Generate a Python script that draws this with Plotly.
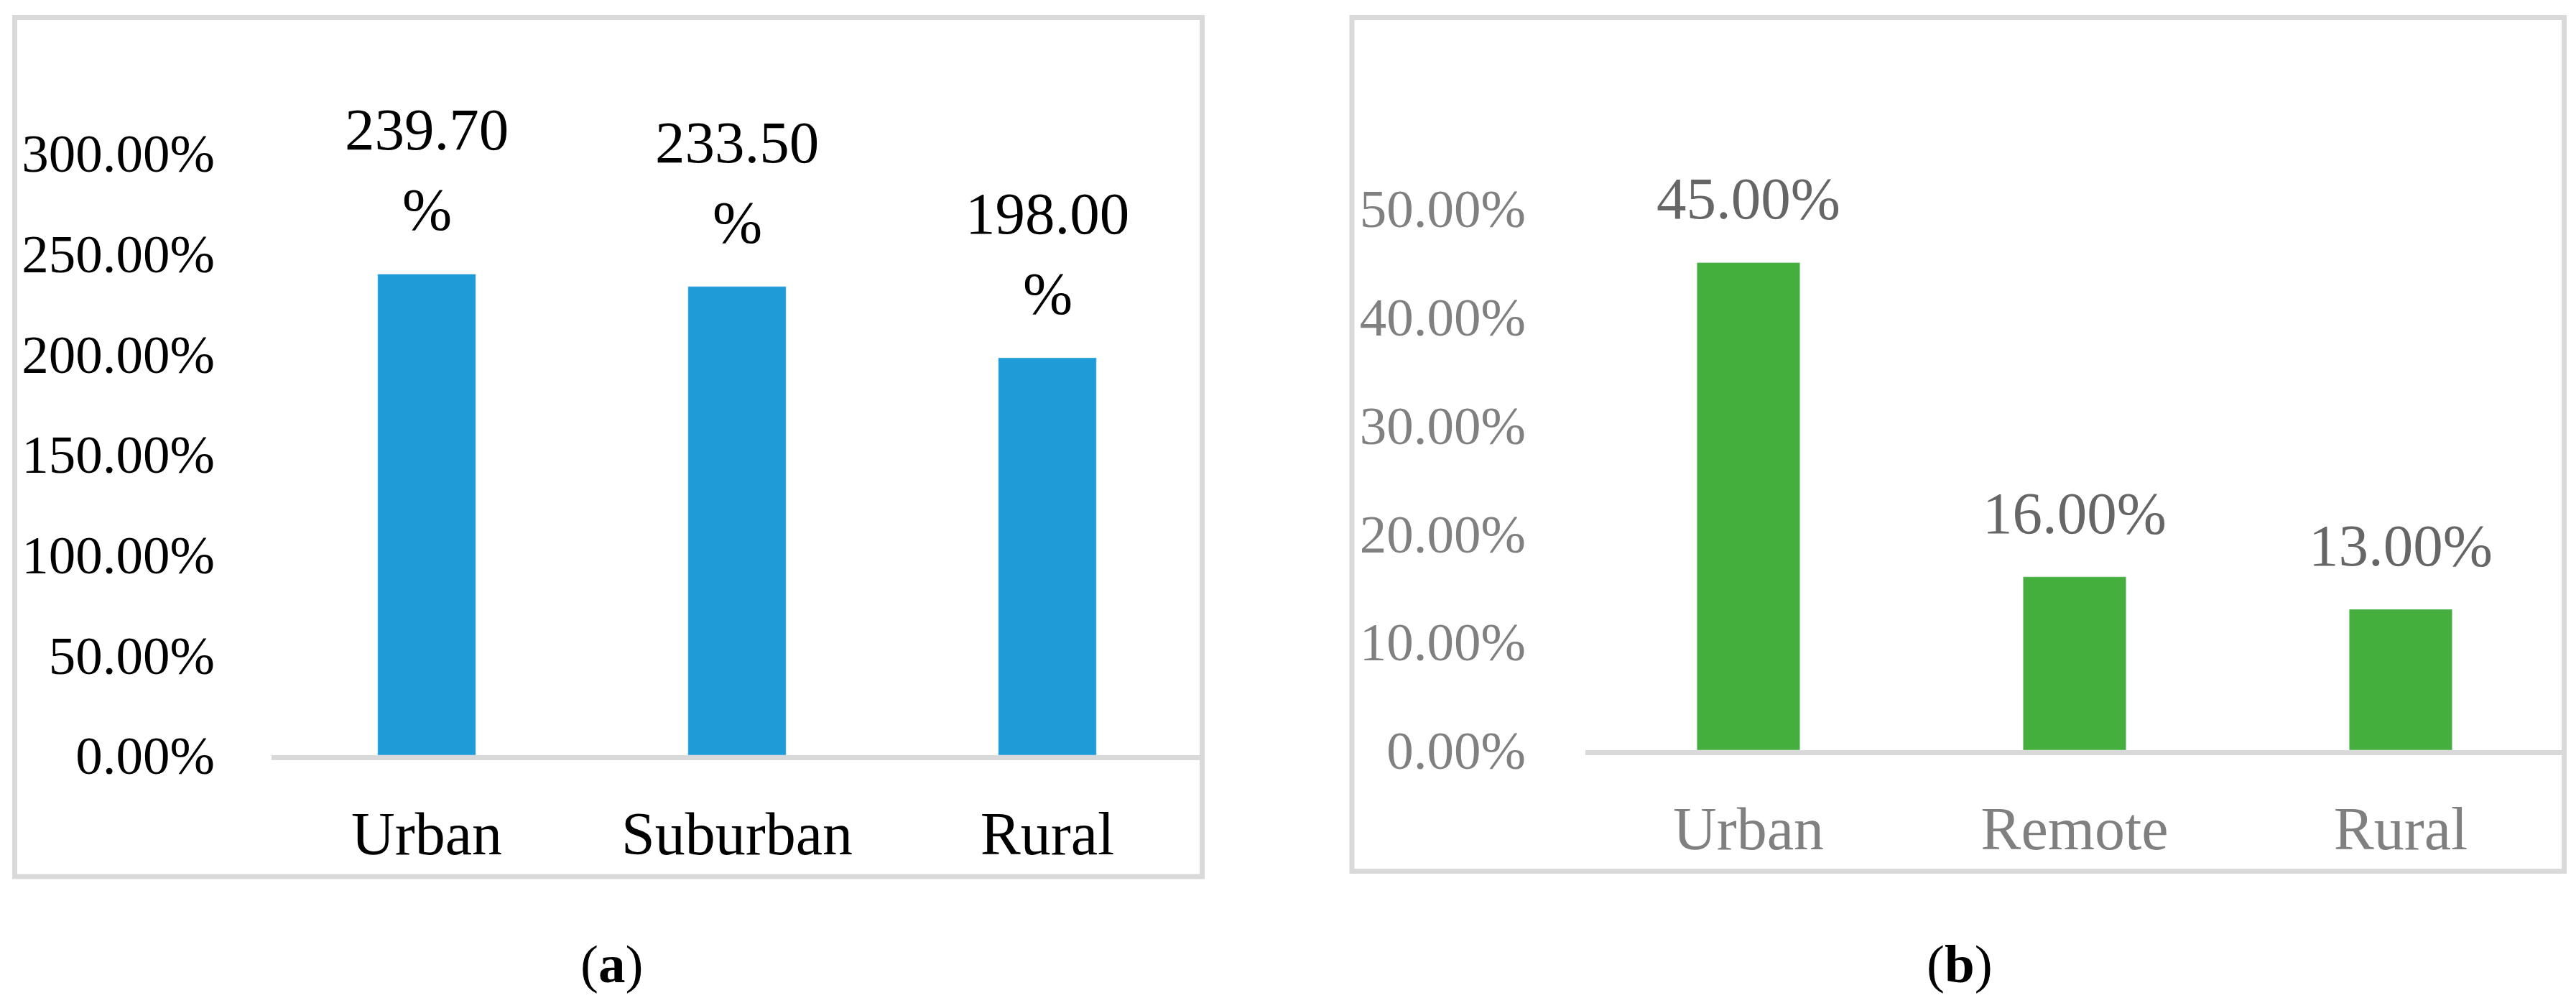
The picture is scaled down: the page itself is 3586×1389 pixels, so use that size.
import plotly.graph_objects as go

# ---- data ----
cats_a = ["Urban", "Suburban", "Rural"]
vals_a = [239.70, 233.50, 198.00]
cats_b = ["Urban", "Remote", "Rural"]
vals_b = [45.00, 16.00, 13.00]
ticks_a = [0, 50, 100, 150, 200, 250, 300]
ticks_b = [0, 10, 20, 30, 40, 50]
captions = ["a", "b"]

W, H = 3586, 1389
OFF = 8  # default body margin of the html page
FONT = "Liberation Serif"
FS_TICK = 75
FS_CAT = 84
FS_LAB = 83
FS_CAP = 75
BLUE = "#1E9CD8"
GREEN = "#45AF3D"
BORDER = "#D9D9D9"

def px(x):
    return (x - OFF) / W

def py(y):
    return 1 - (y - OFF) / H

fig = go.Figure()
fig.add_trace(go.Bar(x=cats_a, y=vals_a, marker_color=BLUE, xaxis="x", yaxis="y",
                     hoverinfo="skip", showlegend=False))
fig.add_trace(go.Bar(x=cats_b, y=vals_b, marker_color=GREEN, xaxis="x2", yaxis="y2",
                     hoverinfo="skip", showlegend=False))

annotations = []
# panel a labels: value on one line, "%" wrapped on the next
for c, v in zip(cats_a, vals_a):
    annotations.append(dict(x=c, y=v, xref="x", yref="y", text="%", showarrow=False,
                            yanchor="bottom", yshift=42,
                            font=dict(family=FONT, size=FS_LAB, color="#000000")))
    annotations.append(dict(x=c, y=v, xref="x", yref="y", text=f"{v:.2f}", showarrow=False,
                            yanchor="bottom", yshift=153,
                            font=dict(family=FONT, size=FS_LAB, color="#000000")))
for c, v in zip(cats_b, vals_b):
    annotations.append(dict(x=c, y=v, xref="x2", yref="y2", text=f"{v:.2f}%", showarrow=False,
                            yanchor="bottom", yshift=41,
                            font=dict(family=FONT, size=FS_LAB, color="#666666")))

# captions
for cx, lab in zip([851, 2728], captions):
    annotations.append(dict(x=px(cx), y=py(1341), xref="paper", yref="paper",
                            text=f"(<b>{lab}</b>)", showarrow=False,
                            xanchor="center", yanchor="middle",
                            font=dict(family=FONT, size=FS_CAP, color="#000000")))

shapes = [
    dict(type="rect", xref="paper", yref="paper",
         x0=px(20.5), x1=px(1673.5), y0=py(1220), y1=py(24.5),
         line=dict(color=BORDER, width=7), fillcolor="rgba(0,0,0,0)", layer="below"),
    dict(type="rect", xref="paper", yref="paper",
         x0=px(1882), x1=px(3569.5), y0=py(1212.5), y1=py(24.5),
         line=dict(color=BORDER, width=7), fillcolor="rgba(0,0,0,0)", layer="below"),
]

axis_x_common = dict(showgrid=False, zeroline=False, showline=True, linecolor=BORDER,
                     linewidth=7, ticks="", fixedrange=True, automargin=False)
axis_y_common = dict(showgrid=False, zeroline=False, showline=False, ticks="",
                     fixedrange=True, automargin=False)

fig.update_layout(
    width=W, height=H,
    margin=dict(l=0, r=0, t=0, b=0, pad=0),
    paper_bgcolor="white", plot_bgcolor="white",
    bargap=0.684,
    font=dict(family=FONT, size=FS_TICK),
    xaxis=dict(domain=[px(378), px(1674)], anchor="y",
               tickfont=dict(family=FONT, size=FS_CAT, color="#000000"),
               ticklabelstandoff=30, **axis_x_common),
    yaxis=dict(domain=[py(1051), py(213)], anchor="x", range=[0, 300],
               tickvals=ticks_a, ticktext=[f"{t:.2f}%" for t in ticks_a],
               ticklabelstandoff=78,
               tickfont=dict(family=FONT, size=FS_TICK, color="#000000"), **axis_y_common),
    xaxis2=dict(domain=[px(2207), px(3569)], anchor="y2",
                tickfont=dict(family=FONT, size=FS_CAT, color="#808080"),
                ticklabelstandoff=30, **axis_x_common),
    yaxis2=dict(domain=[py(1044), py(290)], anchor="x2", range=[0, 50],
                tickvals=ticks_b, ticktext=[f"{t:.2f}%" for t in ticks_b],
                ticklabelstandoff=82,
                tickfont=dict(family=FONT, size=FS_TICK, color="#808080"), **axis_y_common),
    annotations=annotations,
    shapes=shapes,
)

fig.write_html("out.html")
